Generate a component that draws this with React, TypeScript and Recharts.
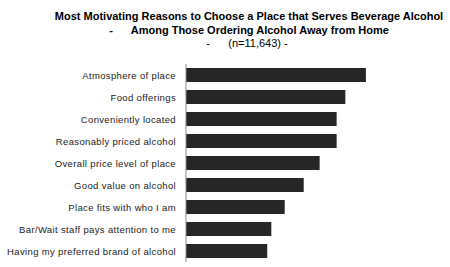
import { Bar, BarChart, XAxis, YAxis } from 'recharts'

const reasons = [
  'Atmosphere of place',
  'Food offerings',
  'Conveniently located',
  'Reasonably priced alcohol',
  'Overall price level of place',
  'Good value on alcohol',
  'Place fits with who I am',
  'Bar/Wait staff pays attention to me',
  'Having my preferred brand of alcohol',
]

const shares = [35, 31, 29.3, 29.3, 26, 22.9, 19.2, 16.6, 15.8]

const data = reasons.map((reason, i) => ({ reason, share: shares[i] }))

const titleLine = { fontFamily: 'Liberation Sans, Arial, sans-serif', fontSize: 11, color: '#000', whiteSpace: 'pre' as const, textAlign: 'center' as const, width: 498, left: 0, position: 'absolute' as const }

// single-line tick, the default one wraps the long labels
function ReasonTick({ x, y, payload }: any) {
  return (
    <text
      x={x}
      y={y}
      dy={3.5}
      textAnchor="end"
      fill="#222"
      fontSize={9.5}
      fontFamily="Liberation Sans, Arial, sans-serif"
      letterSpacing={0.35}
    >
      {payload.value}
    </text>
  )
}

export default function App() {
  return (
    <div style={{ position: 'absolute', left: 0, top: 0, width: 450, height: 267, background: '#fff' }}>
      <div style={{ ...titleLine, top: 10, fontWeight: 700 }}>
        Most Motivating Reasons to Choose a Place that Serves Beverage Alcohol
      </div>
      <div style={{ ...titleLine, top: 23.5, fontWeight: 700 }}>{'-      Among Those Ordering Alcohol Away from Home'}</div>
      <div style={{ ...titleLine, top: 36.5, width: 494 }}>{'-      (n=11,643) -'}</div>
      <BarChart
        width={450}
        height={267}
        data={data}
        layout="vertical"
        margin={{ top: 64, right: 7, bottom: 5, left: 0 }}
        barSize={14}
        style={{ position: 'absolute', left: 0, top: 0 }}
      >
        <XAxis type="number" domain={[0, 50]} hide />
        <YAxis
          type="category"
          dataKey="reason"
          width={186}
          axisLine={{ stroke: '#888' }}
          tickLine={false}
          tickMargin={4}
          interval={0}
          tick={<ReasonTick />}
        />
        <Bar dataKey="share" fill="#262626" isAnimationActive={false} />
      </BarChart>
    </div>
  )
}
